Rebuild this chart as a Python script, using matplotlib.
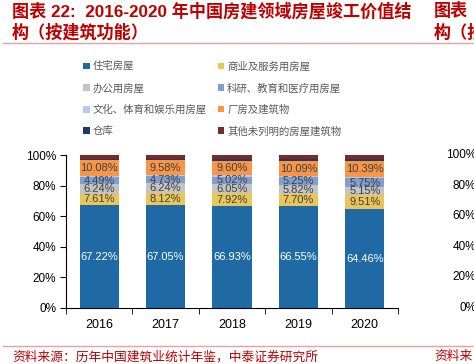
import matplotlib
matplotlib.use("Agg")
import matplotlib.pyplot as plt
from matplotlib.patches import Patch
import numpy as np

plt.rcParams['font.family'] = ['Liberation Sans', 'Noto Sans CJK SC', 'DejaVu Sans']

# === Data ===
years = ['2016', '2017', '2018', '2019', '2020']
series_names = ['住宅房屋', '商业及服务用房屋', '办公用房屋', '科研、教育和医疗用房屋',
                '文化、体育和娱乐用房屋', '厂房及建筑物', '仓库', '其他未列明的房屋建筑物']
residential = [67.22, 67.05, 66.93, 66.55, 64.46]
commercial = [7.61, 8.12, 7.92, 7.70, 9.51]
office = [6.24, 6.24, 6.05, 5.82, 5.15]
research = [4.49, 4.73, 5.02, 5.25, 5.75]
culture = [0.8, 0.8, 0.8, 0.8, 0.8]
factory = [10.08, 9.58, 9.60, 10.09, 10.39]
warehouse = [1.2, 1.1, 1.2, 1.2, 1.3]
other = [2.36, 2.38, 2.48, 2.59, 2.64]
y_ticks = [0, 20, 40, 60, 80, 100]

series = [residential, commercial, office, research, culture, factory, warehouse, other]
colors = ['#1F6AA5', '#E9C55A', '#C4C4C4', '#7F9FD2', '#B7CBE8', '#F79646', '#1F3A64', '#7A2A2A']
labeled = [True, True, True, True, False, True, False, False]
title_red = '#C00000'

fig = plt.figure(figsize=(4.74, 3.64), dpi=100)
ax = fig.add_axes([66 / 474, 1 - 308 / 364, 332 / 474, 153 / 364])

x = np.arange(len(years))
bottom = np.zeros(len(years))
for vals, col, lab, name in zip(series, colors, labeled, series_names):
    vals = np.array(vals)
    ax.bar(x, vals, width=0.59, bottom=bottom, color=col, label=name)
    if lab:
        for xi, b, v in zip(x, bottom, vals):
            tc = 'white' if name == '住宅房屋' else '#404040'
            ax.text(xi, b + v / 2, f'{v:.2f}%', ha='center', va='center',
                    fontsize=8, color=tc)
    bottom += vals

ax.set_xlim(-0.5, len(years) - 0.5)
ax.set_ylim(0, 100)
ax.set_yticks(y_ticks)
ax.set_yticklabels([f'{t}%' for t in y_ticks], fontsize=8.5)
ax.set_xticks(x)
ax.set_xticklabels(years, fontsize=9)
ax.tick_params(axis='x', which='major', length=0, pad=8)
ax.set_xticks(np.arange(-0.5, len(years)), minor=True)
ax.tick_params(axis='x', which='minor', length=4, direction='out')
ax.tick_params(axis='y', length=4, direction='out', pad=3)
for s in ['top', 'right']:
    ax.spines[s].set_visible(False)

# === Legend (row-wise order) ===
handles = [Patch(facecolor=c) for c in colors]
order = [0, 2, 4, 6, 1, 3, 5, 7]
fig.legend([handles[i] for i in order], [series_names[i] for i in order],
           ncol=2, loc='upper left', bbox_to_anchor=(74 / 474, 1 - 52 / 364),
           frameon=False, handlelength=0.6, handleheight=0.6,
           handletextpad=0.3, columnspacing=1.05, labelspacing=1.08,
           labelcolor='#595959', prop={'family': ['Noto Sans CJK SC'], 'size': 7.5})

# === Titles and source ===
fig.text(12 / 474, 1 - 11 / 364, '图表 22:  2016-2020 年中国房建领域房屋竣工价值结',
         fontsize=12.3, color=title_red, fontweight='bold', va='center')
fig.text(12 / 474, 1 - 32 / 364, '构（按建筑功能）', fontsize=12.3, color=title_red,
         fontweight='bold', va='center')
fig.text(434 / 474, 1 - 11 / 364, '图表', fontsize=12.3, color=title_red,
         fontweight='bold', va='center')
fig.text(434 / 474, 1 - 32 / 364, '构（按', fontsize=12.3, color=title_red,
         fontweight='bold', va='center')
fig.add_artist(plt.Line2D([3 / 474, 1], [1 - 43 / 364] * 2, color='#E8A0A0', lw=1))
fig.add_artist(plt.Line2D([3 / 474, 1], [1 - 346 / 364] * 2, color='#E8A0A0', lw=1))
fig.text(12 / 474, 1 - 357 / 364, '资料来源：历年中国建筑业统计年鉴，中泰证券研究所',
         fontsize=9.2, color=title_red, va='center')
fig.text(434 / 474, 1 - 357 / 364, '资料来', fontsize=9.2, color=title_red, va='center')

# === Neighbouring chart's axis labels (cut off at right edge) ===
for t in y_ticks:
    yy = (1 - 308 / 364) + t / 100 * 153 / 364
    fig.text(476 / 474, yy, f'{t}%', fontsize=8.5, ha='right', va='center')

fig.savefig('out.png', dpi=100)
